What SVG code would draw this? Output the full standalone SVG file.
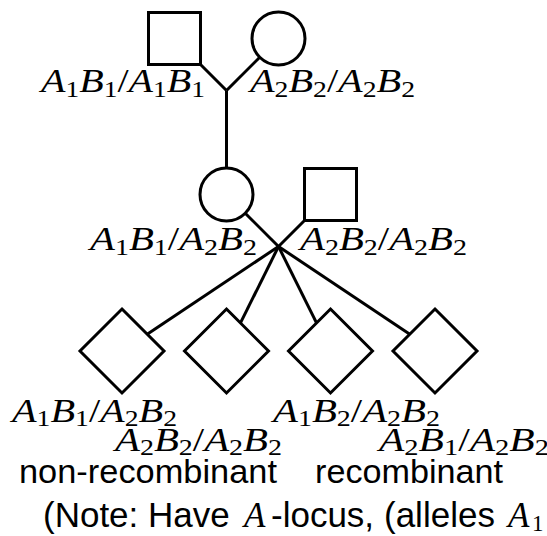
<svg xmlns="http://www.w3.org/2000/svg" width="547" height="536" viewBox="0 0 547 536">
<style>
.shape{fill:#fff;stroke:#000;stroke-width:3}
.conn line{stroke:#000;stroke-width:3;stroke-linecap:butt}
.lab{font-family:"Liberation Serif","Times New Roman",serif;font-size:33.5px;fill:#000}
.i{font-style:italic}
.s{font-size:23px;font-style:normal}
.sans{font-family:"Liberation Sans",Arial,Helvetica,sans-serif;font-size:34px;fill:#000}
.note{font-family:"Liberation Sans",Arial,Helvetica,sans-serif;font-size:35px;fill:#000}
.mi{font-family:"Liberation Serif","Times New Roman",serif;font-style:italic}
.ms{font-family:"Liberation Serif","Times New Roman",serif;font-size:23px}
</style>
<rect width="547" height="536" fill="#fff"/>
<g id="connectors" class="conn">
<line x1="200.5" y1="64.5" x2="226.5" y2="90.5"/>
<line x1="259.76" y1="57.24" x2="226.5" y2="90.5"/>
<line x1="226.5" y1="90.5" x2="226.5" y2="168"/>
<line x1="245.24" y1="213.24" x2="278.5" y2="246.5"/>
<line x1="304.5" y1="220.5" x2="278.5" y2="246.5"/>
<line x1="278.5" y1="246.5" x2="147.2" y2="334.2"/>
<line x1="278.5" y1="246.5" x2="240.5" y2="322.9"/>
<line x1="278.5" y1="246.5" x2="316.5" y2="322.9"/>
<line x1="278.5" y1="246.5" x2="409.8" y2="334.2"/>
</g>
<g id="grandfather">
<rect class="shape" x="148.5" y="12.5" width="52" height="52"/>
<text class="lab" x="41" y="92" textLength="164" lengthAdjust="spacingAndGlyphs"><tspan class="i">A</tspan><tspan class="s" dy="4.5">1</tspan><tspan class="i" dy="-4.5">B</tspan><tspan class="s" dy="4.5">1</tspan><tspan dy="-4.5">/</tspan><tspan class="i">A</tspan><tspan class="s" dy="4.5">1</tspan><tspan class="i" dy="-4.5">B</tspan><tspan class="s" dy="4.5">1</tspan></text>
</g>
<g id="grandmother">
<circle class="shape" cx="278.5" cy="38.5" r="26.5"/>
<text class="lab" x="250" y="92" textLength="165" lengthAdjust="spacingAndGlyphs"><tspan class="i">A</tspan><tspan class="s" dy="4.5">2</tspan><tspan class="i" dy="-4.5">B</tspan><tspan class="s" dy="4.5">2</tspan><tspan dy="-4.5">/</tspan><tspan class="i">A</tspan><tspan class="s" dy="4.5">2</tspan><tspan class="i" dy="-4.5">B</tspan><tspan class="s" dy="4.5">2</tspan></text>
</g>
<g id="mother">
<circle class="shape" cx="226.5" cy="194.5" r="26.5"/>
<text class="lab" x="90" y="250" textLength="167" lengthAdjust="spacingAndGlyphs"><tspan class="i">A</tspan><tspan class="s" dy="4.5">1</tspan><tspan class="i" dy="-4.5">B</tspan><tspan class="s" dy="4.5">1</tspan><tspan dy="-4.5">/</tspan><tspan class="i">A</tspan><tspan class="s" dy="4.5">2</tspan><tspan class="i" dy="-4.5">B</tspan><tspan class="s" dy="4.5">2</tspan></text>
</g>
<g id="father">
<rect class="shape" x="304.5" y="168.5" width="52" height="52"/>
<text class="lab" x="300" y="250" textLength="167" lengthAdjust="spacingAndGlyphs"><tspan class="i">A</tspan><tspan class="s" dy="4.5">2</tspan><tspan class="i" dy="-4.5">B</tspan><tspan class="s" dy="4.5">2</tspan><tspan dy="-4.5">/</tspan><tspan class="i">A</tspan><tspan class="s" dy="4.5">2</tspan><tspan class="i" dy="-4.5">B</tspan><tspan class="s" dy="4.5">2</tspan></text>
</g>
<g id="child1">
<polygon class="shape" points="122,309 164,351 122,393 80,351"/>
<text class="lab" x="12" y="422" textLength="165" lengthAdjust="spacingAndGlyphs"><tspan class="i">A</tspan><tspan class="s" dy="4">1</tspan><tspan class="i" dy="-4">B</tspan><tspan class="s" dy="4">1</tspan><tspan dy="-4">/</tspan><tspan class="i">A</tspan><tspan class="s" dy="4">2</tspan><tspan class="i" dy="-4">B</tspan><tspan class="s" dy="4">2</tspan></text>
</g>
<g id="child2">
<polygon class="shape" points="226.5,309 268.5,351 226.5,393 184.5,351"/>
<text class="lab" x="115" y="451" textLength="167" lengthAdjust="spacingAndGlyphs"><tspan class="i">A</tspan><tspan class="s" dy="4">2</tspan><tspan class="i" dy="-4">B</tspan><tspan class="s" dy="4">2</tspan><tspan dy="-4">/</tspan><tspan class="i">A</tspan><tspan class="s" dy="4">2</tspan><tspan class="i" dy="-4">B</tspan><tspan class="s" dy="4">2</tspan></text>
</g>
<g id="child3">
<polygon class="shape" points="330.5,309 372.5,351 330.5,393 288.5,351"/>
<text class="lab" x="273" y="422" textLength="167" lengthAdjust="spacingAndGlyphs"><tspan class="i">A</tspan><tspan class="s" dy="4">1</tspan><tspan class="i" dy="-4">B</tspan><tspan class="s" dy="4">2</tspan><tspan dy="-4">/</tspan><tspan class="i">A</tspan><tspan class="s" dy="4">2</tspan><tspan class="i" dy="-4">B</tspan><tspan class="s" dy="4">2</tspan></text>
</g>
<g id="child4">
<polygon class="shape" points="435,309 477,351 435,393 393,351"/>
<text class="lab" x="379" y="451" textLength="170" lengthAdjust="spacingAndGlyphs"><tspan class="i">A</tspan><tspan class="s" dy="4">2</tspan><tspan class="i" dy="-4">B</tspan><tspan class="s" dy="4">1</tspan><tspan dy="-4">/</tspan><tspan class="i">A</tspan><tspan class="s" dy="4">2</tspan><tspan class="i" dy="-4">B</tspan><tspan class="s" dy="4">2</tspan></text>
</g>
<g id="captions">
<text class="sans" x="19" y="483" textLength="258" lengthAdjust="spacingAndGlyphs">non-recombinant</text>
<text class="sans" x="315" y="483" textLength="188" lengthAdjust="spacingAndGlyphs">recombinant</text>
<text class="note" y="527"><tspan x="43">(Note: Have</tspan><tspan x="244" class="mi">A</tspan><tspan x="271">-locus,</tspan><tspan x="384">(alleles</tspan><tspan x="508" class="mi">A</tspan><tspan x="532" dy="4" class="ms">1</tspan></text>
</g>
</svg>
